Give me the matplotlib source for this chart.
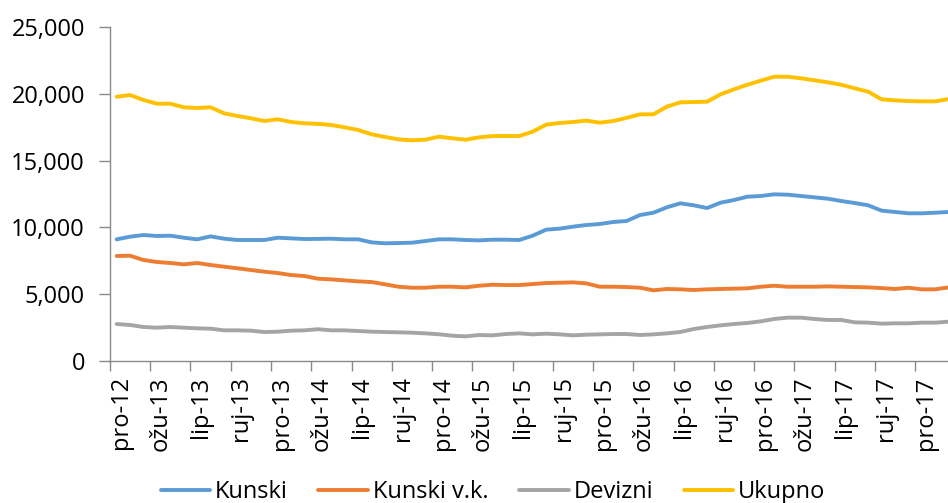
import numpy as np
import matplotlib
matplotlib.use("Agg")
import matplotlib.pyplot as plt
from matplotlib.ticker import FuncFormatter

plt.rcParams['font.family'] = ['Open Sans', 'DejaVu Sans']

# tick labels, every third month starting pro-12
tick_labels = ['pro-12', 'ožu-13', 'lip-13', 'ruj-13',
               'pro-13', 'ožu-14', 'lip-14', 'ruj-14',
               'pro-14', 'ožu-15', 'lip-15', 'ruj-15',
               'pro-15', 'ožu-16', 'lip-16', 'ruj-16',
               'pro-16', 'ožu-17', 'lip-17', 'ruj-17', 'pro-17']

# monthly values, pro-12 .. velj-18
kunski = [9107, 9305, 9431, 9356, 9380, 9230, 9107, 9330, 9156, 9057,
          9057, 9057, 9230, 9180, 9130, 9140, 9155, 9107, 9107, 8880,
          8810, 8830, 8855, 8980, 9107, 9107, 9057, 9030, 9080, 9080,
          9057, 9380, 9830, 9905, 10055, 10180, 10255, 10405, 10480, 10930,
          11100, 11505, 11800, 11655, 11450, 11850, 12050, 12300, 12350, 12475,
          12450, 12350, 12250, 12150, 11975, 11825, 11655, 11255, 11155, 11055,
          11055, 11100, 11155]
kunski_vk = [7860, 7880, 7560, 7410, 7335, 7235, 7335, 7185, 7060, 6940,
             6810, 6685, 6585, 6435, 6360, 6160, 6110, 6035, 5960, 5910,
             5740, 5560, 5485, 5485, 5560, 5560, 5510, 5635, 5710, 5685,
             5685, 5760, 5835, 5860, 5885, 5810, 5560, 5560, 5535, 5485,
             5290, 5390, 5365, 5315, 5365, 5390, 5415, 5440, 5560, 5635,
             5560, 5560, 5560, 5585, 5560, 5535, 5510, 5460, 5390, 5485,
             5365, 5365, 5510]
devizni = [2770, 2695, 2545, 2495, 2545, 2495, 2445, 2420, 2295, 2295,
           2270, 2170, 2195, 2270, 2295, 2380, 2295, 2295, 2245, 2195,
           2170, 2145, 2120, 2070, 2000, 1895, 1845, 1945, 1920, 2020,
           2070, 1995, 2045, 1995, 1920, 1970, 1995, 2020, 2020, 1945,
           1995, 2070, 2170, 2395, 2545, 2670, 2770, 2845, 2970, 3145,
           3245, 3245, 3145, 3070, 3070, 2895, 2870, 2795, 2820, 2820,
           2870, 2870, 2945]
ukupno = [19783, 19910, 19536, 19259, 19259, 18990, 18937, 18990, 18541, 18340,
          18166, 17964, 18091, 17890, 17790, 17750, 17665, 17490, 17290, 16970,
          16770, 16590, 16520, 16565, 16790, 16670, 16565, 16740, 16840, 16840,
          16840, 17165, 17690, 17815, 17890, 17990, 17840, 17964, 18200, 18465,
          18465, 19035, 19360, 19385, 19410, 19960, 20335, 20680, 20980, 21280,
          21280, 21160, 21010, 20860, 20680, 20410, 20160, 19585, 19510, 19460,
          19435, 19435, 19610]

series = [('Kunski', kunski, '#5B9BD5'),
          ('Kunski v.k.', kunski_vk, '#ED7D31'),
          ('Devizni', devizni, '#A5A5A5'),
          ('Ukupno', ukupno, '#FFC000')]

fig = plt.figure(figsize=(9.48, 5.03), dpi=100)
ax = fig.add_axes([0.116, 0.2823, 0.884, 0.6640])

x = np.arange(len(kunski)) + 0.5
for name, vals, col in series:
    ax.plot(x, vals, color=col, lw=2.8, label=name, solid_capstyle='round')

ax.set_xlim(0, 62.45)
ax.set_ylim(0, 25000)
ax.set_yticks(np.arange(0, 25001, 5000))
ax.yaxis.set_major_formatter(FuncFormatter(lambda v, p: '{:,.0f}'.format(v)))

ticks = np.arange(0, 61, 3)
ax.set_xticks(ticks)
ax.set_xticklabels([])
ax.set_xticks(ticks + 0.8, minor=True)
ax.set_xticklabels(tick_labels, minor=True, rotation=90)
ax.tick_params(axis='x', which='minor', length=0, pad=11, labelsize=17)
ax.tick_params(axis='x', which='major', length=7, width=1, color='#898989',
               direction='out')
ax.tick_params(axis='y', length=8, width=1, color='#898989', direction='out',
               pad=10, labelsize=17)

for s in ['top', 'right']:
    ax.spines[s].set_visible(False)
for s in ['left', 'bottom']:
    ax.spines[s].set_color('#898989')
    ax.spines[s].set_linewidth(1)

fig.legend(loc='center', bbox_to_anchor=(0.52, 0.022), ncol=4, frameon=False,
           fontsize=17, handlelength=2.1, handletextpad=0.2,
           columnspacing=1.3)

fig.savefig('out.png', dpi=100)
